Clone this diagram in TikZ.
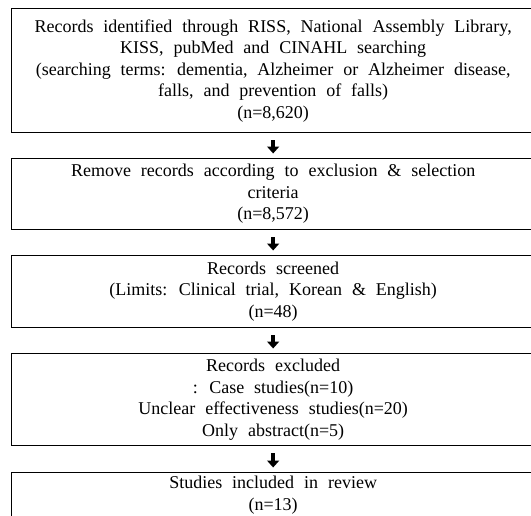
\documentclass[tikz,border=0pt]{standalone}
\usepackage{fontspec}
\setmainfont{Liberation Serif}
\usetikzlibrary{arrows.meta}
\newcommand\stgfont{\fontsize{18}{21.5}\selectfont}
\newcommand\stgspace{\spaceskip=0.55em plus 0.1em\relax}
\begin{document}
\begin{tikzpicture}[x=1pt,y=1pt,
  stagebox/.style={draw=black, line width=1.3pt, rectangle, anchor=north west,
    minimum width=523pt, align=center, inner sep=0pt, font=\stgfont},
  flowarrow/.style={line width=4.4pt, -{Triangle[width=12pt,length=7pt]}, shorten <=7pt, shorten >=4.5pt}]
\useasboundingbox (0,0) rectangle (531,-515);
\node[stagebox, minimum height=124pt] (b1) at (11,-8) {\stgspace Records identified through RISS, National Assembly Library,\\\stgspace KISS, pubMed and CINAHL searching\\\stgspace(searching terms: dementia, Alzheimer or Alzheimer disease,\\\stgspace falls, and prevention of falls)\\(n=8,620)};
\node[stagebox, minimum height=71pt] (b2) at (11,-158) {\stgspace Remove records according to exclusion \& selection\\criteria\\(n=8,572)};
\node[stagebox, minimum height=72pt] (b3) at (11,-255) {\stgspace Records screened\\\stgspace(Limits: Clinical trial, Korean \& English)\\(n=48)};
\node[stagebox, minimum height=92pt] (b4) at (11,-353) {\stgspace Records excluded\\\stgspace: Case studies(n=10)\\\stgspace Unclear effectiveness studies(n=20)\\\stgspace Only abstract(n=5)};
\node[stagebox, minimum height=45pt] (b5) at (11,-472) {\stgspace Studies included in review\\(n=13)};
\draw[flowarrow] (b1.south) -- (b2.north);
\draw[flowarrow] (b2.south) -- (b3.north);
\draw[flowarrow] (b3.south) -- (b4.north);
\draw[flowarrow] (b4.south) -- (b5.north);
\end{tikzpicture}
\end{document}
